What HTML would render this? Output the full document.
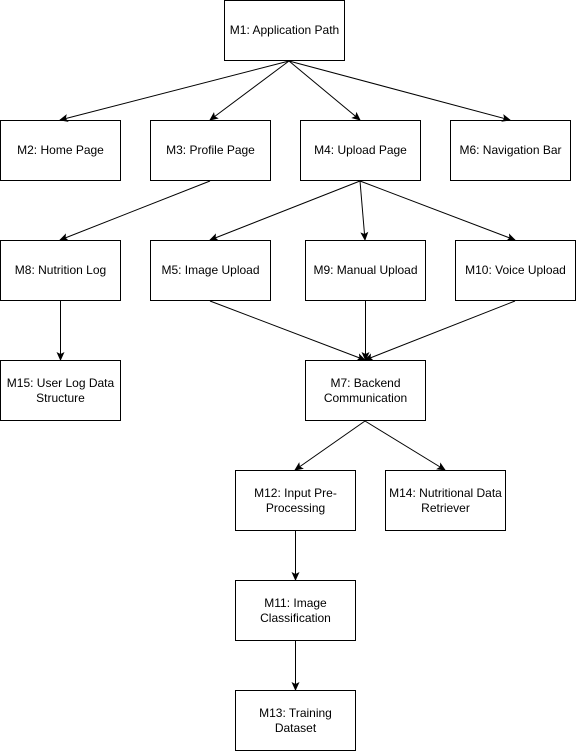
<!DOCTYPE html>
<html><head><meta charset="utf-8"><style>
html,body{margin:0;padding:0;background:#fff;}
svg{display:block;}
text{font-family:"Liberation Sans",Arial,sans-serif;font-size:12px;fill:#000;}
</style></head><body>
<svg width="576" height="751" viewBox="0 0 576 751" xmlns="http://www.w3.org/2000/svg">
<defs><marker id="a" markerWidth="10" markerHeight="10" refX="8" refY="4" orient="auto" markerUnits="userSpaceOnUse"><path d="M0,0 L9,4 L0,8 L2,4 z" fill="#000"/></marker></defs>
<g fill="#fff" stroke="#000" stroke-width="1">
<rect x="224.5" y="0.5" width="120" height="60"/>
<rect x="0.5" y="120.5" width="120" height="60"/>
<rect x="150.5" y="120.5" width="120" height="60"/>
<rect x="300.5" y="120.5" width="120" height="60"/>
<rect x="450.5" y="120.5" width="120" height="60"/>
<rect x="0.5" y="240.5" width="120" height="60"/>
<rect x="150.5" y="240.5" width="120" height="60"/>
<rect x="305.5" y="240.5" width="120" height="60"/>
<rect x="455.5" y="240.5" width="120" height="60"/>
<rect x="0.5" y="360.5" width="120" height="60"/>
<rect x="305.5" y="360.5" width="120" height="60"/>
<rect x="235.5" y="470.5" width="120" height="60"/>
<rect x="385.5" y="470.5" width="120" height="60"/>
<rect x="235.5" y="580.5" width="120" height="60"/>
<rect x="235.5" y="690.5" width="120" height="60"/>
</g>
<g stroke="#000" stroke-width="1" fill="none" marker-end="url(#a)">
<line x1="289" y1="61" x2="60" y2="120"/>
<line x1="289" y1="61" x2="210" y2="120"/>
<line x1="289" y1="61" x2="360" y2="120"/>
<line x1="289" y1="61" x2="510" y2="120"/>
<line x1="210" y1="181" x2="60" y2="240"/>
<line x1="360" y1="181" x2="210" y2="240"/>
<line x1="360" y1="181" x2="365" y2="240"/>
<line x1="360" y1="181" x2="515" y2="240"/>
<line x1="60.5" y1="301" x2="60.5" y2="360"/>
<line x1="210" y1="301" x2="365" y2="360"/>
<line x1="365.5" y1="301" x2="365.5" y2="360"/>
<line x1="515" y1="301" x2="365" y2="360"/>
<line x1="365" y1="421" x2="295" y2="470"/>
<line x1="365" y1="421" x2="445" y2="470"/>
<line x1="295.5" y1="531" x2="295.5" y2="580"/>
<line x1="295.5" y1="641" x2="295.5" y2="690"/>
</g>
<g text-anchor="middle">
<text x="284.5" y="34">M1: Application Path</text>
<text x="60.5" y="154">M2: Home Page</text>
<text x="210.5" y="154">M3: Profile Page</text>
<text x="360.5" y="154">M4: Upload Page</text>
<text x="510.5" y="154">M6: Navigation Bar</text>
<text x="60.5" y="274">M8: Nutrition Log</text>
<text x="210.5" y="274">M5: Image Upload</text>
<text x="365.5" y="274">M9: Manual Upload</text>
<text x="515.5" y="274">M10: Voice Upload</text>
<text x="60.5" y="387">M15: User Log Data</text>
<text x="60.5" y="402">Structure</text>
<text x="365.5" y="387">M7: Backend</text>
<text x="365.5" y="402">Communication</text>
<text x="295.5" y="497">M12: Input Pre-</text>
<text x="295.5" y="512">Processing</text>
<text x="445.5" y="497">M14: Nutritional Data</text>
<text x="445.5" y="512">Retriever</text>
<text x="295.5" y="607">M11: Image</text>
<text x="295.5" y="622">Classification</text>
<text x="295.5" y="717">M13: Training</text>
<text x="295.5" y="732">Dataset</text>
</g>
</svg>
</body></html>
